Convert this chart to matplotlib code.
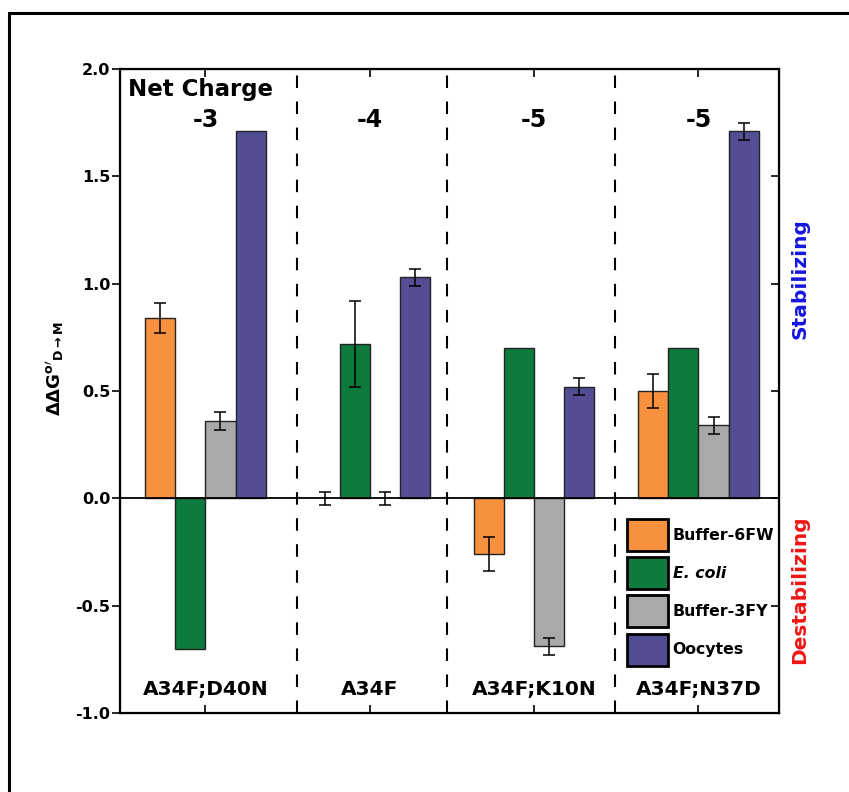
import numpy as np
import matplotlib.pyplot as plt
from matplotlib.patches import Patch, Rectangle

plt.rcParams['font.family'] = ['DejaVu Sans']
plt.rcParams['mathtext.fontset'] = 'dejavusans'

# data
mutants = ['A34F;D40N', 'A34F', 'A34F;K10N', 'A34F;N37D']
charges = ['-3', '-4', '-5', '-5']
conditions = ['Buffer-6FW', 'E. coli', 'Buffer-3FY', 'Oocytes']
buffer_6fw = [0.84, 0.00, -0.26, 0.50]
buffer_6fw_err = [0.07, 0.03, 0.08, 0.08]
e_coli = [-0.70, 0.72, 0.70, 0.70]
e_coli_err = [0.0, 0.20, 0.0, 0.0]
buffer_3fy = [0.36, 0.00, -0.69, 0.34]
buffer_3fy_err = [0.04, 0.03, 0.04, 0.04]
oocytes = [1.71, 1.03, 0.52, 1.71]
oocytes_err = [0.0, 0.04, 0.04, 0.04]
dividers = [1.56, 2.47, 3.49]

colors = ['#F7913D', '#0E7A3D', '#A9A9A9', '#534E94']

fig = plt.figure(figsize=(8.49, 7.92), dpi=100)
fig.patches.append(Rectangle((9/849, -0.2), 1.2, 1.2 - 13/792, transform=fig.transFigure,
                             fill=False, lw=2.2, ec='black'))
ax = fig.add_axes([120/849, 1 - 713/792, 659/849, 644/792])

x = np.arange(1, 5)
w = 0.183
series = [(buffer_6fw, buffer_6fw_err), (e_coli, e_coli_err),
          (buffer_3fy, buffer_3fy_err), (oocytes, oocytes_err)]
for i, (vals, errs) in enumerate(series):
    pos = x + (i - 1.5) * w
    vals = np.array(vals)
    errs = np.array(errs)
    show = vals != 0
    ax.bar(pos[show], vals[show], w, color=colors[i], edgecolor='#222222', lw=1.0, zorder=2)
    has_err = errs > 0
    ax.errorbar(pos[has_err], vals[has_err], yerr=errs[has_err], fmt='none',
                ecolor='black', elinewidth=1.1, capsize=4, capthick=1.1, zorder=3)

ax.axhline(0, color='black', lw=1.3, zorder=4)
for d in dividers:
    ax.axvline(d, color='black', lw=1.5, ls=(0, (6, 6.5)), zorder=1)

ax.set_xlim(0.48, 4.49)
ax.set_ylim(-1.0, 2.0)
ax.set_xticks(x)
ax.set_xticklabels([])
yt = np.arange(-1.0, 2.01, 0.5)
ax.set_yticks(yt)
ax.set_yticklabels([f'{v:.1f}' for v in yt], fontsize=11.5, fontweight='bold')
ax.tick_params(axis='x', which='both', direction='in', top=True, length=6, width=1.2)
ax.tick_params(axis='y', which='both', direction='out', length=6, width=1.2, pad=1)
for s in ax.spines.values():
    s.set_linewidth(1.6)
# inward ticks on the right spine
ax2 = ax.twinx()
ax2.set_ylim(ax.get_ylim())
ax2.set_yticks(yt)
ax2.set_yticklabels([])
ax2.tick_params(axis='y', direction='in', length=6, width=1.2)

ax.text(0.53, 1.905, 'Net Charge', fontsize=16.5, fontweight='bold', va='center', ha='left')
for xi, c in zip(x, charges):
    ax.text(xi, 1.762, c, fontsize=17, fontweight='bold', ha='center', va='center')
for xi, m in zip(x, mutants):
    ax.text(xi, -0.89, m, fontsize=14.5, fontweight='bold', ha='center', va='center')

fig.text(55/849, 1 - 369/792,
         r'$\mathbf{\Delta\Delta}\mathit{\mathbf{G}}^{\mathbf{o\prime}}{}_{\mathit{\mathbf{D\rightarrow M}}}$',
         fontsize=13, rotation=90, ha='center', va='center')

fig.text(800/849, 1 - 279/792, 'Stabilizing', color='#1515E0', rotation=90,
         fontsize=14.5, fontweight='bold', ha='center', va='center')
fig.text(800/849, 1 - 590/792, 'Destabilizing', color='#F01515', rotation=90,
         fontsize=14.5, fontweight='bold', ha='center', va='center')

handles = [Patch(facecolor=c, edgecolor='black', lw=2) for c in colors]
leg = ax.legend(handles, conditions, loc='upper left',
                bbox_to_anchor=((624 - 120) / 659, 1 - (516 - 69) / 644),
                frameon=False, handlelength=2.6, handleheight=2.75, labelspacing=0.4,
                handletextpad=0.3, borderpad=0.2, borderaxespad=0,
                prop={'size': 11.3, 'weight': 'bold'})
leg.get_texts()[1].set_fontstyle('italic')

fig.savefig('out.png', dpi=100)
